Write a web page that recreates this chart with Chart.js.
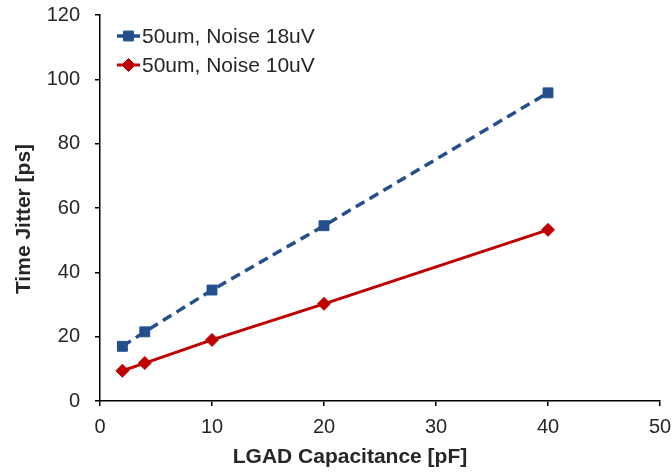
<!DOCTYPE html>
<html>
<head>
<meta charset="utf-8">
<script src="https://cdn.jsdelivr.net/npm/chart.js@4"></script>
<style>
  body { margin: 0; background: #fff; }
  #wrap { width: 672px; height: 474px; }
</style>
</head>
<body>
<div id="wrap"><canvas id="jitterChart" width="672" height="474"></canvas></div>
<script>
const capacitance = [2, 4, 10, 20, 40];
const jitter18uV = [17, 21.5, 34.5, 54.5, 95.8];
const jitter10uV = [9.4, 11.8, 19, 30.2, 53.2];
const seriesLabels = ['50um, Noise 18uV', '50um, Noise 10uV'];
const xTicks = [0, 10, 20, 30, 40, 50];
const yTicks = [0, 20, 40, 60, 80, 100, 120];
const xTitle = 'LGAD Capacitance [pF]';
const yTitle = 'Time Jitter [ps]';

const font = "'Liberation Sans', Arial, sans-serif";
const textColor = '#262626';

function toPoints(xs, ys) {
    return xs.map((x, i) => ({ x: x, y: ys[i] }));
}

// legend inside the plot area, top-left, like the original
const insideLegend = {
    id: 'insideLegend',
    afterDatasetsDraw(chart) {
        const ctx = chart.ctx;
        const left = chart.chartArea.left + 17;
        let y = chart.chartArea.top + 21;
        chart.data.datasets.forEach(ds => {
            ctx.save();
            ctx.strokeStyle = ds.borderColor;
            ctx.fillStyle = ds.backgroundColor;
            ctx.lineWidth = ds.borderWidth;
            ctx.setLineDash(ds.borderDash || []);
            ctx.beginPath();
            ctx.moveTo(left, y);
            ctx.lineTo(left + 23, y);
            ctx.stroke();
            ctx.setLineDash([]);
            ctx.lineWidth = 1;
            Chart.helpers.drawPoint(ctx, {
                pointStyle: ds.pointStyle,
                radius: ds.pointRadius,
                borderWidth: 1
            }, left + 11.5, y);
            ctx.fillStyle = textColor;
            ctx.font = '21px ' + font;
            ctx.textBaseline = 'middle';
            ctx.fillText(ds.label, left + 25, y + 1);
            ctx.restore();
            y += 29;
        });
    }
};

// axis titles, placed where the original has them
const axisTitles = {
    id: 'axisTitles',
    afterDraw(chart) {
        const ctx = chart.ctx;
        const area = chart.chartArea;
        ctx.save();
        ctx.fillStyle = textColor;
        ctx.font = 'bold 21px ' + font;
        ctx.textAlign = 'center';
        ctx.textBaseline = 'middle';
        ctx.fillText(xTitle, area.left + 250, 457);
        ctx.translate(24, area.top + 204);
        ctx.rotate(-Math.PI / 2);
        ctx.fillText(yTitle, 0, 0);
        ctx.restore();
    }
};

document.addEventListener('DOMContentLoaded', function() {
    const ctx = document.getElementById('jitterChart').getContext('2d');
    new Chart(ctx, {
        type: 'line',
        data: {
            datasets: [{
                label: seriesLabels[0],
                data: toPoints(capacitance, jitter18uV),
                borderColor: '#23508c',
                backgroundColor: '#23508c',
                borderWidth: 3.5,
                borderDash: [10, 6],
                pointStyle: 'rect',
                pointRadius: 7,
                pointBorderWidth: 1
            }, {
                label: seriesLabels[1],
                data: toPoints(capacitance, jitter10uV),
                borderColor: '#c00000',
                backgroundColor: '#c00000',
                borderWidth: 3,
                pointStyle: 'rectRot',
                pointRadius: 6.5,
                pointBorderWidth: 1
            }]
        },
        options: {
            responsive: false,
            animation: false,
            layout: { padding: { top: 15, right: 12, left: 0, bottom: 0 } },
            plugins: {
                legend: { display: false },
                tooltip: { enabled: false }
            },
            scales: {
                x: {
                    type: 'linear',
                    min: 0,
                    max: 50,
                    afterBuildTicks: axis => { axis.ticks = xTicks.map(v => ({ value: v })); },
                    afterFit: axis => {
                        axis.height = 73;
                        axis.paddingLeft = 0;
                        axis.paddingRight = 0;
                    },
                    grid: { drawOnChartArea: false, drawTicks: true, tickLength: 5, color: '#000', lineWidth: 1.5 },
                    border: { color: '#000', width: 1.5 },
                    ticks: { color: textColor, font: { family: font, size: 20 }, padding: 9 }
                },
                y: {
                    min: 0,
                    max: 120,
                    afterBuildTicks: axis => { axis.ticks = yTicks.map(v => ({ value: v })); },
                    afterFit: axis => {
                        axis.width = 100;
                        axis.paddingTop = 0;
                        axis.paddingBottom = 0;
                    },
                    grid: { drawOnChartArea: false, drawTicks: true, tickLength: 5, color: '#000', lineWidth: 1.5 },
                    border: { color: '#000', width: 1.5 },
                    ticks: { color: textColor, font: { family: font, size: 20 }, padding: 15 }
                }
            }
        },
        plugins: [insideLegend, axisTitles]
    });
});
</script>
</body>
</html>
